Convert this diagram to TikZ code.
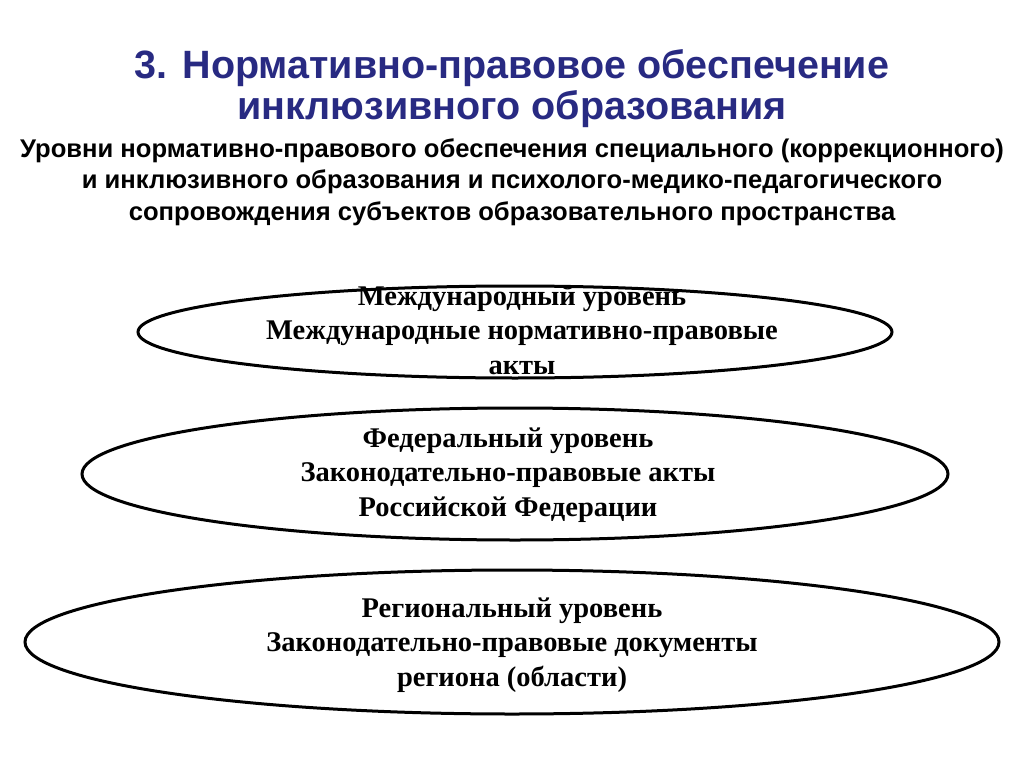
\documentclass[tikz,border=0pt]{standalone}
\usepackage{fontspec}
\setmainfont{Liberation Serif}
\newfontfamily\hsans{Liberation Sans}
\definecolor{tblue}{RGB}{40,42,130}
\begin{document}
\begin{tikzpicture}[x=1pt,y=-1pt,
  otext/.style={font=\fontsize{28.5}{34.5}\selectfont\bfseries,align=center},
  sub/.style={font=\hsans\fontsize{25.6}{31.5}\selectfont\bfseries,align=center}]
\useasboundingbox (0,0) rectangle (1024,767);
\node[font=\hsans\fontsize{39.5}{41}\selectfont\bfseries,text=tblue,align=center] (title) at (512,89)
 {3. Нормативно-правовое обеспечение\\инклюзивного образования};
\node[sub] (subt) at (512,182) {Уровни нормативно-правового обеспечения специального (коррекционного)\\и инклюзивного образования и психолого-медико-педагогического\\сопровождения субъектов образовательного пространства};
\draw[line width=3pt] (515,332) ellipse [x radius=377, y radius=46];
\node[otext] (e1) at (522,330) {Международный уровень\\Международные нормативно-правовые\\акты};
\draw[line width=3pt] (515,474) ellipse [x radius=433, y radius=66];
\node[otext] (e2) at (508,475) {Федеральный уровень\\Законодательно-правовые акты\\Российской Федерации};
\draw[line width=3pt] (512,642) ellipse [x radius=487, y radius=72];
\node[otext] (e3) at (512,645) {Региональный уровень\\Законодательно-правовые документы\\региона (области)};
\end{tikzpicture}
\end{document}
